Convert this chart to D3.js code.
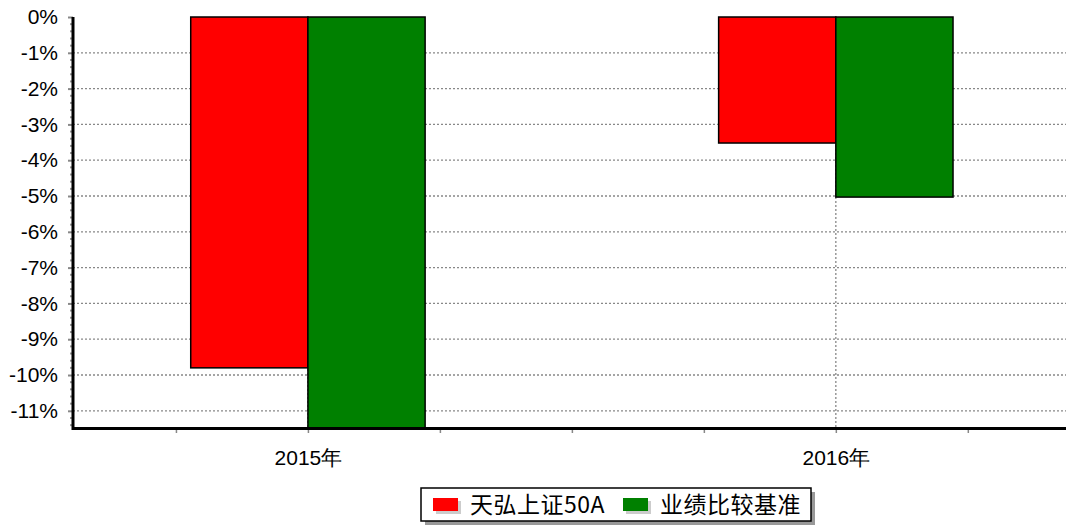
<!DOCTYPE html>
<html lang="zh">
<head>
    <meta charset="UTF-8">
    <title>天弘上证50A - 年度收益</title>
    <script src="https://cdn.jsdelivr.net/npm/d3@7"></script>
    <style>
        body{ margin:0; background:#fff; }
        #canvas{ display:block; }
        .ylab{ font-family:"Liberation Sans", Arial, sans-serif; font-size:21px; fill:#000; }
        .xlab{ font-family:"Liberation Sans", Arial, sans-serif; font-size:21px; fill:#000; }
        .leg{ font-family:"Noto Sans CJK SC", "Liberation Sans", sans-serif; font-size:23px; letter-spacing:0.5px; fill:#000; }
    </style>
</head>
<body>
<svg id="canvas" width="1066" height="529"></svg>
<script>
    // data
    let years = ["2015年", "2016年"]
    let seriesNames = ["天弘上证50A", "业绩比较基准"]
    let fundValues = [-9.80, -3.52]
    let benchValues = [-11.48, -5.03]
    let seriesColors = ["#ff0000", "#008000"]
    let yTicks = [0, -1, -2, -3, -4, -5, -6, -7, -8, -9, -10, -11]

    let svg = d3.select('#canvas')
    let plotLeft = 73, plotRight = 1066, plotTop = 17, plotBottom = 428

    let y = d3.scaleLinear().domain([0, -11.48]).range([plotTop, plotBottom])
    // slot scale: one unit per year, centres on integers
    let x = d3.scaleLinear().domain([-0.445, 1.436]).range([plotLeft, plotRight])
    let barW = x(0.222) - x(0)

    // horizontal dotted grid
    svg.append('g').selectAll('line')
        .data(yTicks.filter(d => d !== 0))
        .enter().append('line')
        .attr('x1', plotLeft).attr('x2', plotRight)
        .attr('y1', d => y(d)).attr('y2', d => y(d))
        .attr('stroke', '#888').attr('stroke-width', 1.3)
        .attr('stroke-dasharray', '2,2')

    // vertical dotted grid at category centres
    svg.append('g').selectAll('line')
        .data(years)
        .enter().append('line')
        .attr('x1', (d, i) => x(i)).attr('x2', (d, i) => x(i))
        .attr('y1', plotTop).attr('y2', plotBottom)
        .attr('stroke', '#888').attr('stroke-width', 1.3)
        .attr('stroke-dasharray', '2,2')

    // bars
    let bars = svg.append('g')
    let series = [fundValues, benchValues]
    series.forEach((vals, s) => {
        bars.selectAll('rect.s' + s)
            .data(vals)
            .enter().append('rect')
            .attr('class', 's' + s)
            .attr('x', (d, i) => s === 0 ? x(i) - barW : x(i))
            .attr('y', y(0))
            .attr('width', barW)
            .attr('height', d => y(d) - y(0))
            .attr('fill', seriesColors[s])
            .attr('stroke', '#000')
            .attr('stroke-width', 1.5)
    })

    // y axis
    let yAxis = d3.axisLeft(y).tickValues(yTicks).tickSize(5).tickFormat(d => d + '%')
    let ya = svg.append('g').attr('transform', `translate(${plotLeft},0)`).call(yAxis)
    ya.select('.domain').remove()
    ya.selectAll('.tick line').attr('stroke', '#888').attr('stroke-width', 2)
    ya.selectAll('.tick text').attr('class', 'ylab').attr('x', -15).attr('font-size', null).attr('font-family', null)
    // minor y ticks
    let minor = d3.range(0, -11.45, -0.2).filter(d => Math.abs(d - Math.round(d)) > 0.01)
    svg.append('g').selectAll('line')
        .data(minor)
        .enter().append('line')
        .attr('x1', plotLeft - 3).attr('x2', plotLeft)
        .attr('y1', d => y(d)).attr('y2', d => y(d))
        .attr('stroke', '#999').attr('stroke-width', 2)

    // x axis
    let xTicks = d3.range(-0.25, 1.3, 0.25)
    let xAxis = d3.axisBottom(x).tickValues(xTicks).tickSize(4).tickFormat(d => Number.isInteger(d) ? years[d] : '')
    let xa = svg.append('g').attr('transform', `translate(0,${plotBottom + 1})`).call(xAxis)
    xa.select('.domain').remove()
    xa.selectAll('.tick line').attr('stroke', '#888').attr('stroke-width', 1.5)
    xa.selectAll('.tick text').attr('class', 'xlab').attr('y', 21).attr('font-size', null).attr('font-family', null)

    svg.append('line').attr('x1', plotLeft).attr('x2', plotRight).attr('y1', plotBottom + 0.5).attr('y2', plotBottom + 0.5)
        .attr('stroke', '#000').attr('stroke-width', 3)
    svg.append('line').attr('x1', plotLeft).attr('x2', plotLeft).attr('y1', plotTop).attr('y2', plotBottom + 2)
        .attr('stroke', '#000').attr('stroke-width', 3)

    // legend
    let lg = svg.append('g').attr('transform', 'translate(421,488)')
    lg.append('rect').attr('x', 4).attr('y', 4).attr('width', 390).attr('height', 33).attr('fill', '#999')
    lg.append('rect').attr('x', 0).attr('y', 0).attr('width', 390).attr('height', 33)
        .attr('fill', '#fff').attr('stroke', '#000').attr('stroke-width', 1.5)
    let legX = [12, 202]
    seriesNames.forEach((name, i) => {
        lg.append('rect').attr('x', legX[i] + 3).attr('y', 13).attr('width', 25).attr('height', 13).attr('fill', '#ccc')
        lg.append('rect').attr('x', legX[i]).attr('y', 10).attr('width', 25).attr('height', 13).attr('fill', seriesColors[i])
        lg.append('text').attr('class', 'leg').attr('x', legX[i] + 37).attr('y', 25).text(name)
    })
</script>
</body>
</html>
